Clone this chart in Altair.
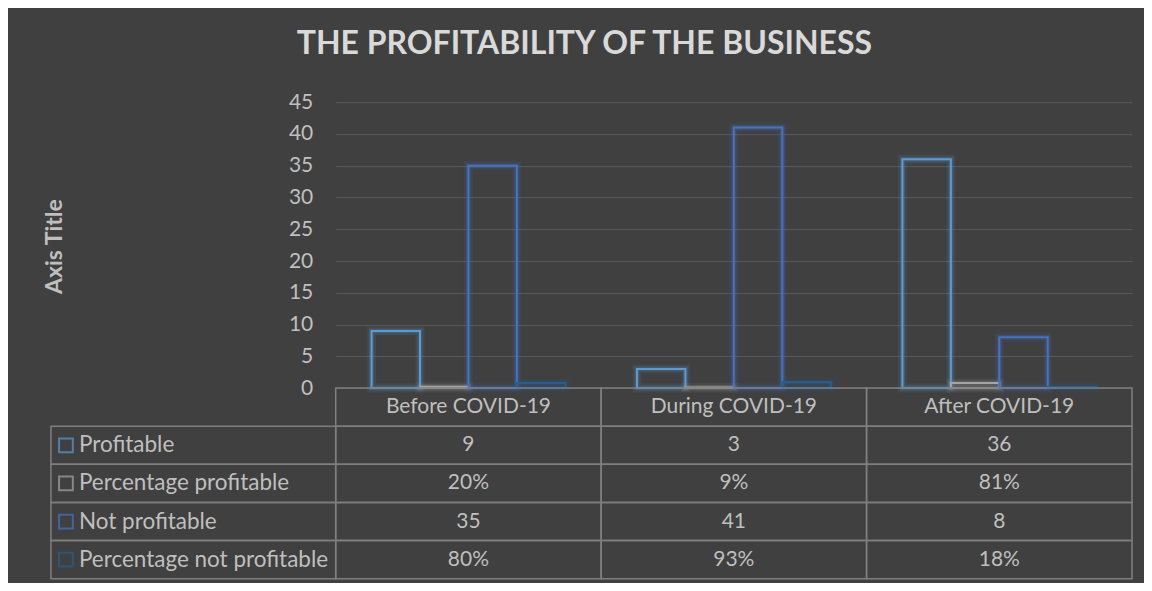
import altair as alt
import pandas as pd

# ---------------- data ----------------
categories = ["Before COVID-19", "During COVID-19", "After COVID-19"]
series = ["Profitable", "Percentage profitable", "Not profitable", "Percentage not profitable"]
profitable = [9, 3, 36]
pct_profitable = [0.20, 0.09, 0.81]
not_profitable = [35, 41, 8]
pct_not_profitable = [0.80, 0.93, 0.18]
is_percent = [False, True, False, True]
y_ticks = [0, 5, 10, 15, 20, 25, 30, 35, 40, 45]

# ---------------- style ----------------
colors = ["#5B9BD5", "#A5A5A5", "#4472C4", "#255E91"]
BG = "#404040"
TEXT = "#BFBFBF"
BORDER = "#7F7F7F"
FONT = "Lato"
ROW_H = 6  # table row height in y-units
Y_DOMAIN = [-5 * ROW_H, 45]
PLOT_H = 477
MAIN_W = 797
LEFT_W = 285

series_values = [profitable, pct_profitable, not_profitable, pct_not_profitable]
rows = []
for si, s in enumerate(series):
    for ci, c in enumerate(categories):
        v = series_values[si][ci]
        label = f"{round(v * 100)}%" if is_percent[si] else str(v)
        rows.append({"category": c, "series": s, "value": v, "label": label, "row": si + 1})
df = pd.DataFrame(rows)

cells = pd.DataFrame([{"category": c, "row": r} for c in categories for r in range(5)])
header = pd.DataFrame({"category": categories, "row": [0] * len(categories)})
left_rows = pd.DataFrame({"series": series, "row": list(range(1, len(series) + 1))})

row_calc = dict(
    ytop=f"-datum.row * {ROW_H}",
    ybot=f"-(datum.row + 1) * {ROW_H}",
    yc=f"-(datum.row + 0.5) * {ROW_H}",
)

yscale = alt.Scale(domain=Y_DOMAIN, nice=False, zero=False)
xscale = alt.Scale(domain=categories, paddingInner=0, paddingOuter=0)
cscale = alt.Scale(domain=series, range=colors)

x_enc = alt.X("category:N", scale=xscale, sort=categories, axis=None)

yaxis = alt.Axis(
    values=y_ticks, grid=True, gridColor="#595959", gridWidth=1, domain=False, ticks=False,
    labelColor=TEXT, labelFont=FONT, labelFontSize=21, labelPadding=23,
    title="Axis Title", titleFont=FONT, titleFontSize=23, titleFontWeight="bold",
    titleColor=TEXT, titleAngle=270, titleX=-281, titleY=144, titleAlign="center",
    titleBaseline="middle",
)

bars_base = alt.Chart(df)
bar_enc = dict(
    x=x_enc,
    xOffset=alt.XOffset("series:N", sort=series, scale=alt.Scale(paddingInner=0, paddingOuter=0.74)),
    y=alt.Y("value:Q", scale=yscale, axis=yaxis),
    stroke=alt.Stroke("series:N", scale=cscale, legend=None),
)
glow1 = bars_base.mark_bar(fillOpacity=0, strokeWidth=9, strokeOpacity=0.10).encode(**bar_enc)
glow2 = bars_base.mark_bar(fillOpacity=0, strokeWidth=5, strokeOpacity=0.22).encode(**bar_enc)
bars = bars_base.mark_bar(fillOpacity=0, strokeWidth=2).encode(**bar_enc)

cell_rects = alt.Chart(cells).transform_calculate(**row_calc).mark_rect(
    fillOpacity=0, stroke=BORDER, strokeWidth=1.5
).encode(x=x_enc, y=alt.Y("ytop:Q", scale=yscale), y2="ybot:Q")

header_text = alt.Chart(header).transform_calculate(**row_calc).mark_text(
    font=FONT, fontSize=21, color=TEXT
).encode(x=x_enc, y=alt.Y("yc:Q", scale=yscale), text="category:N")

value_text = alt.Chart(df).transform_calculate(**row_calc).mark_text(
    font=FONT, fontSize=21, color=TEXT
).encode(x=x_enc, y=alt.Y("yc:Q", scale=yscale), text="label:N")

main = alt.layer(glow1, glow2, bars, cell_rects, header_text, value_text).properties(
    width=MAIN_W, height=PLOT_H
)

left_base = alt.Chart(left_rows).transform_calculate(**row_calc)
left_rect = left_base.mark_rect(fillOpacity=0, stroke=BORDER, strokeWidth=1.5).encode(
    x=alt.value(0), x2=alt.value(LEFT_W),
    y=alt.Y("ytop:Q", scale=yscale, axis=None), y2="ybot:Q",
)
left_keys = left_base.mark_point(shape="square", filled=False, size=190, strokeWidth=2).encode(
    x=alt.value(15), y=alt.Y("yc:Q", scale=yscale, axis=None),
    stroke=alt.Stroke("series:N", scale=cscale, legend=None),
)
left_text = left_base.mark_text(font=FONT, fontSize=22.5, color=TEXT, align="left").encode(
    x=alt.value(28), y=alt.Y("yc:Q", scale=yscale, axis=None), text="series:N"
)
left = alt.layer(left_rect, left_keys, left_text).properties(width=LEFT_W, height=PLOT_H)

chart = alt.hconcat(left, main, spacing=0, bounds="flush").properties(
    title=alt.TitleParams(
        "THE PROFITABILITY OF THE BUSINESS", font=FONT, fontSize=32, fontWeight="bold",
        color="#D9D9D9", anchor="middle", baseline="alphabetic", offset=5, dx=-4,
    ),
    background=BG,
    padding={"left": 36, "top": 20, "right": 11, "bottom": 3},
).configure_view(strokeWidth=0)

chart.save("out.html", embed_options={"renderer": "svg", "actions": False})
